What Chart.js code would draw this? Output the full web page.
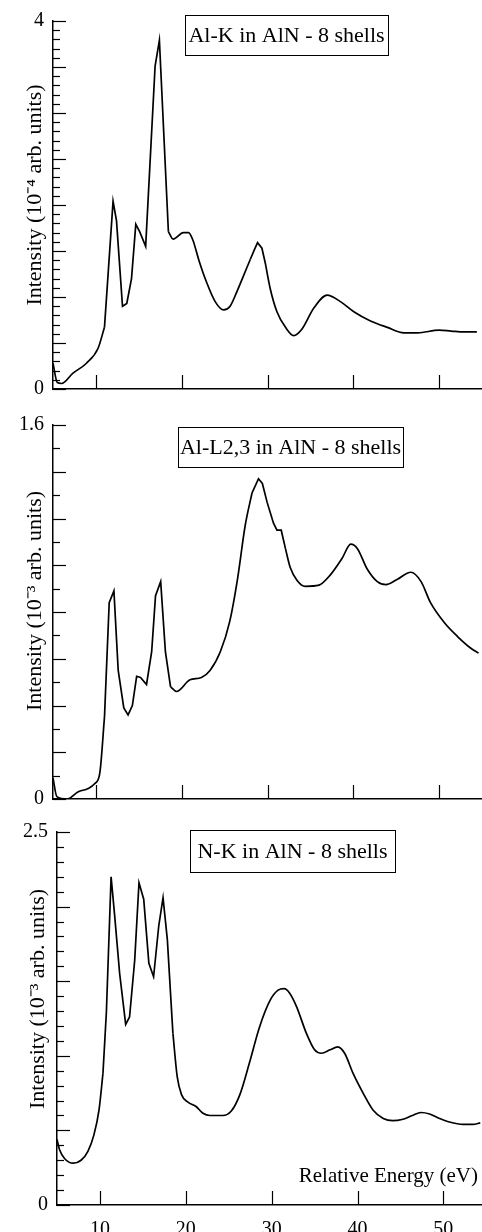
<!DOCTYPE html>
<html>
<head>
<meta charset="utf-8">
<title>AlN ELNES - 8 shells</title>
<script src="https://cdn.jsdelivr.net/npm/chart.js@4/dist/chart.umd.min.js"></script>
<style>
  body { margin: 0; background: #fff; width: 482px; height: 1232px; overflow: hidden; }
  canvas { position: absolute; left: 0; }
</style>
</head>
<body>
<canvas id="alK" width="482" height="410" style="top:0"></canvas>
<canvas id="alL" width="482" height="420" style="top:400px"></canvas>
<canvas id="nK" width="482" height="432" style="top:800px"></canvas>
<script>
// values (eV, arb. units)
const alkEnergy = [5.0, 5.5, 6.0, 7.3, 8.9, 10.24, 11.0, 12.0, 12.4, 13.1, 13.6, 14.15, 14.65, 15.1, 15.8, 16.9, 17.4, 18.45, 19.0, 20.2, 20.8, 21.3, 22.0, 22.9, 23.9, 24.9, 25.64, 26.4, 27.2, 28.0, 28.5, 28.84, 29.35, 29.74, 30.32, 31.1, 32.1, 33.05, 34.0, 35.4, 36.95, 38.5, 40.06, 42.0, 43.97, 45.9, 47.5, 50.0, 51.4, 52.9, 54.4];
const alkIntensity = [0.28, 0.07, 0.06, 0.17, 0.28, 0.44, 0.67, 2.04, 1.83, 0.90, 0.93, 1.20, 1.79, 1.71, 1.55, 3.51, 3.79, 1.71, 1.63, 1.70, 1.70, 1.62, 1.40, 1.16, 0.95, 0.86, 0.90, 1.05, 1.23, 1.41, 1.52, 1.59, 1.53, 1.37, 1.09, 0.84, 0.67, 0.58, 0.65, 0.88, 1.02, 0.95, 0.84, 0.74, 0.67, 0.61, 0.61, 0.64, 0.63, 0.62, 0.62];

const allEnergy = [5.0, 5.45, 6.7, 7.9, 9.1, 9.85, 10.45, 11.0, 11.55, 12.1, 12.6, 13.25, 13.75, 14.25, 14.75, 15.2, 15.9, 16.5, 16.95, 17.55, 18.1, 18.7, 19.4, 20.96, 22.3, 23.3, 24.5, 25.6, 26.5, 27.4, 28.2, 28.95, 29.4, 29.95, 30.7, 31.1, 31.6, 32.1, 32.65, 33.45, 34.4, 36.0, 37.35, 38.7, 39.7, 40.5, 41.6, 42.8, 43.8, 45.15, 46.7, 47.9, 49.0, 50.6, 52.15, 53.7, 54.6];
const allIntensity = [0.09, 0.01, 0.0, 0.03, 0.045, 0.065, 0.11, 0.35, 0.84, 0.89, 0.55, 0.39, 0.36, 0.40, 0.525, 0.52, 0.49, 0.63, 0.87, 0.93, 0.63, 0.48, 0.46, 0.51, 0.52, 0.55, 0.63, 0.76, 0.94, 1.17, 1.31, 1.37, 1.35, 1.27, 1.18, 1.15, 1.15, 1.07, 0.99, 0.935, 0.91, 0.915, 0.96, 1.03, 1.09, 1.07, 0.985, 0.93, 0.917, 0.94, 0.97, 0.93, 0.84, 0.755, 0.695, 0.645, 0.624];

const nkEnergy = [5.0, 5.3, 5.9, 6.9, 7.8, 8.6, 9.3, 9.9, 10.35, 10.75, 11.3, 11.7, 12.3, 13.0, 13.45, 14.05, 14.55, 15.1, 15.7, 16.25, 16.85, 17.35, 17.85, 18.5, 19.0, 19.5, 20.25, 21.2, 22.0, 22.8, 24.3, 25.3, 26.3, 27.4, 28.6, 29.8, 30.75, 31.45, 32.1, 32.9, 34.05, 35.0, 35.8, 36.8, 37.7, 38.5, 39.5, 40.65, 41.8, 43.0, 44.1, 45.3, 46.4, 47.4, 48.4, 49.55, 50.7, 52.3, 53.45, 54.3];
const nkIntensity = [0.44, 0.37, 0.31, 0.28, 0.30, 0.36, 0.47, 0.64, 0.88, 1.29, 2.20, 1.95, 1.55, 1.21, 1.26, 1.64, 2.16, 2.05, 1.62, 1.53, 1.87, 2.06, 1.78, 1.15, 0.86, 0.74, 0.69, 0.66, 0.615, 0.60, 0.60, 0.63, 0.74, 0.95, 1.195, 1.37, 1.44, 1.45, 1.42, 1.33, 1.15, 1.04, 1.017, 1.04, 1.06, 1.017, 0.88, 0.75, 0.637, 0.58, 0.565, 0.575, 0.60, 0.62, 0.61, 0.58, 0.556, 0.54, 0.54, 0.55];

const energyTicks = [10, 20, 30, 40, 50];

const serif = "'Liberation Serif', 'Times New Roman', serif";
Chart.defaults.font.family = serif;
Chart.defaults.font.size = 20;
Chart.defaults.color = '#000';

const toPoints = (xs, ys) => xs.map((x, i) => ({ x: x, y: ys[i] }));

// split the curve so the sharp multiple-scattering peaks stay pointed
// (straight segments) while the rest is drawn as a smooth curve
function pieces(pts, sharp) {
  const isSharp = (a, b) => sharp.some(([lo, hi]) => a >= lo && b <= hi);
  const out = [];
  for (let i = 0; i < pts.length - 1; i++) {
    const s = isSharp(pts[i].x, pts[i + 1].x);
    const last = out[out.length - 1];
    if (last && last.sharp === s) last.data.push(pts[i + 1]);
    else out.push({ sharp: s, data: [pts[i], pts[i + 1]] });
  }
  return out.map((seg) => ({
    data: seg.data,
    borderColor: '#000',
    borderWidth: 1.7,
    pointRadius: 0,
    tension: seg.sharp ? 0 : 0.4,
    cubicInterpolationMode: seg.sharp ? 'default' : 'monotone',
    fill: false,
  }));
}

// ticks drawn inside the frame, like the original plot
const innerTicks = {
  id: 'innerTicks',
  afterDraw(chart, args, opts) {
    const { ctx, chartArea, scales } = chart;
    ctx.save();
    ctx.strokeStyle = '#000';
    ctx.lineWidth = 1.2;
    scales.y.ticks.forEach((t) => {
      const y = Math.round(scales.y.getPixelForValue(t.value)) + 0.5;
      const r = t.value / opts.yMajor;
      const len = Math.abs(r - Math.round(r)) < 1e-6 ? 13 : 7;
      ctx.beginPath();
      ctx.moveTo(chartArea.left, y);
      ctx.lineTo(chartArea.left + len, y);
      ctx.stroke();
    });
    scales.x.ticks.forEach((t) => {
      const x = Math.round(scales.x.getPixelForValue(t.value)) + 0.5;
      ctx.beginPath();
      ctx.moveTo(x, chartArea.bottom);
      ctx.lineTo(x, chartArea.bottom - 14);
      ctx.stroke();
    });
    ctx.restore();
  },
};

// boxed caption, rotated y title and optional x title
const captions = {
  id: 'captions',
  afterDraw(chart, args, opts) {
    const ctx = chart.ctx;
    ctx.save();
    ctx.fillStyle = '#000';
    ctx.strokeStyle = '#000';
    ctx.lineWidth = 1;
    const b = opts.box;
    ctx.strokeRect(b.left + 0.5, b.top + 0.5, b.width, b.height);
    ctx.font = '22px ' + serif;
    ctx.textAlign = 'center';
    ctx.textBaseline = 'middle';
    ctx.fillText(b.text, b.left + b.width / 2, b.top + b.height / 2 + 1);

    ctx.save();
    ctx.translate(opts.yTitle.x, opts.yTitle.y);
    ctx.rotate(-Math.PI / 2);
    ctx.fillText(opts.yTitle.text, 0, 0);
    ctx.restore();

    if (opts.xTitle) {
      ctx.font = '21px ' + serif;
      ctx.textAlign = 'right';
      ctx.fillText(opts.xTitle.text, opts.xTitle.x, opts.xTitle.y);
    }
    ctx.restore();
  },
};

function makePanel(id, p) {
  return new Chart(id, {
    type: 'line',
    data: { datasets: pieces(toPoints(p.energy, p.intensity), p.sharp) },
    options: {
      responsive: false,
      animation: false,
      layout: { padding: { top: p.top, left: 0, right: 0, bottom: 0 } },
      plugins: {
        legend: { display: false },
        tooltip: { enabled: false },
        innerTicks: { yMajor: p.yMajor },
        captions: { box: p.box, yTitle: p.yTitle, xTitle: p.xTitle },
      },
      scales: {
        x: {
          type: 'linear',
          min: 5,
          max: p.xMax,
          afterBuildTicks: (scale) => {
            scale.ticks = energyTicks.map((v) => ({ value: v }));
          },
          afterFit: (scale) => {
            scale.height = p.xHeight;
          },
          grid: { display: false, drawTicks: false },
          border: { display: true, color: '#000', width: 1.5 },
          ticks: { display: p.xLabels, autoSkip: false, maxRotation: 0, padding: 13 },
        },
        y: {
          min: 0,
          max: p.yMax,
          afterFit: (scale) => {
            scale.width = p.left;
          },
          grid: { display: false, drawTicks: false },
          border: { display: true, color: '#000', width: 1.5 },
          ticks: {
            stepSize: 0.1,
            autoSkip: false,
            padding: 9,
            callback: (v, i, ticks) => (i === 0 || i === ticks.length - 1 ? String(v) : ''),
          },
        },
      },
    },
    plugins: [innerTicks, captions],
  });
}

makePanel('alK', {
  energy: alkEnergy,
  intensity: alkIntensity,
  sharp: [[11.0, 18.45], [28.0, 29.74]],
  yMax: 4,
  yMajor: 0.5,
  xMax: 55,
  top: 15,
  left: 53,
  xHeight: 17,
  xLabels: false,
  box: { text: 'Al-K in AlN - 8 shells', left: 185, top: 15, width: 203, height: 40 },
  yTitle: { text: 'Intensity (10\u207B\u2074 arb. units)', x: 35, y: 195 },
});

makePanel('alL', {
  energy: allEnergy,
  intensity: allIntensity,
  sharp: [[11.0, 18.7], [28.2, 32.1]],
  yMax: 1.6,
  yMajor: 0.2,
  xMax: 55,
  top: 25,
  left: 53,
  xHeight: 18,
  xLabels: false,
  box: { text: 'Al-L2,3 in AlN - 8 shells', left: 178, top: 27, width: 225, height: 40 },
  yTitle: { text: 'Intensity (10\u207B\u00B3 arb. units)', x: 35, y: 201 },
});

makePanel('nK', {
  energy: nkEnergy,
  intensity: nkIntensity,
  sharp: [[10.35, 18.5]],
  yMax: 2.5,
  yMajor: 0.5,
  xMax: 54.5,
  top: 32,
  left: 57,
  xHeight: 27,
  xLabels: true,
  box: { text: 'N-K in AlN - 8 shells', left: 190, top: 30, width: 205, height: 42 },
  yTitle: { text: 'Intensity (10\u207B\u00B3 arb. units)', x: 38, y: 199 },
  xTitle: { text: 'Relative Energy (eV)', x: 478, y: 376 },
});
</script>
</body>
</html>
